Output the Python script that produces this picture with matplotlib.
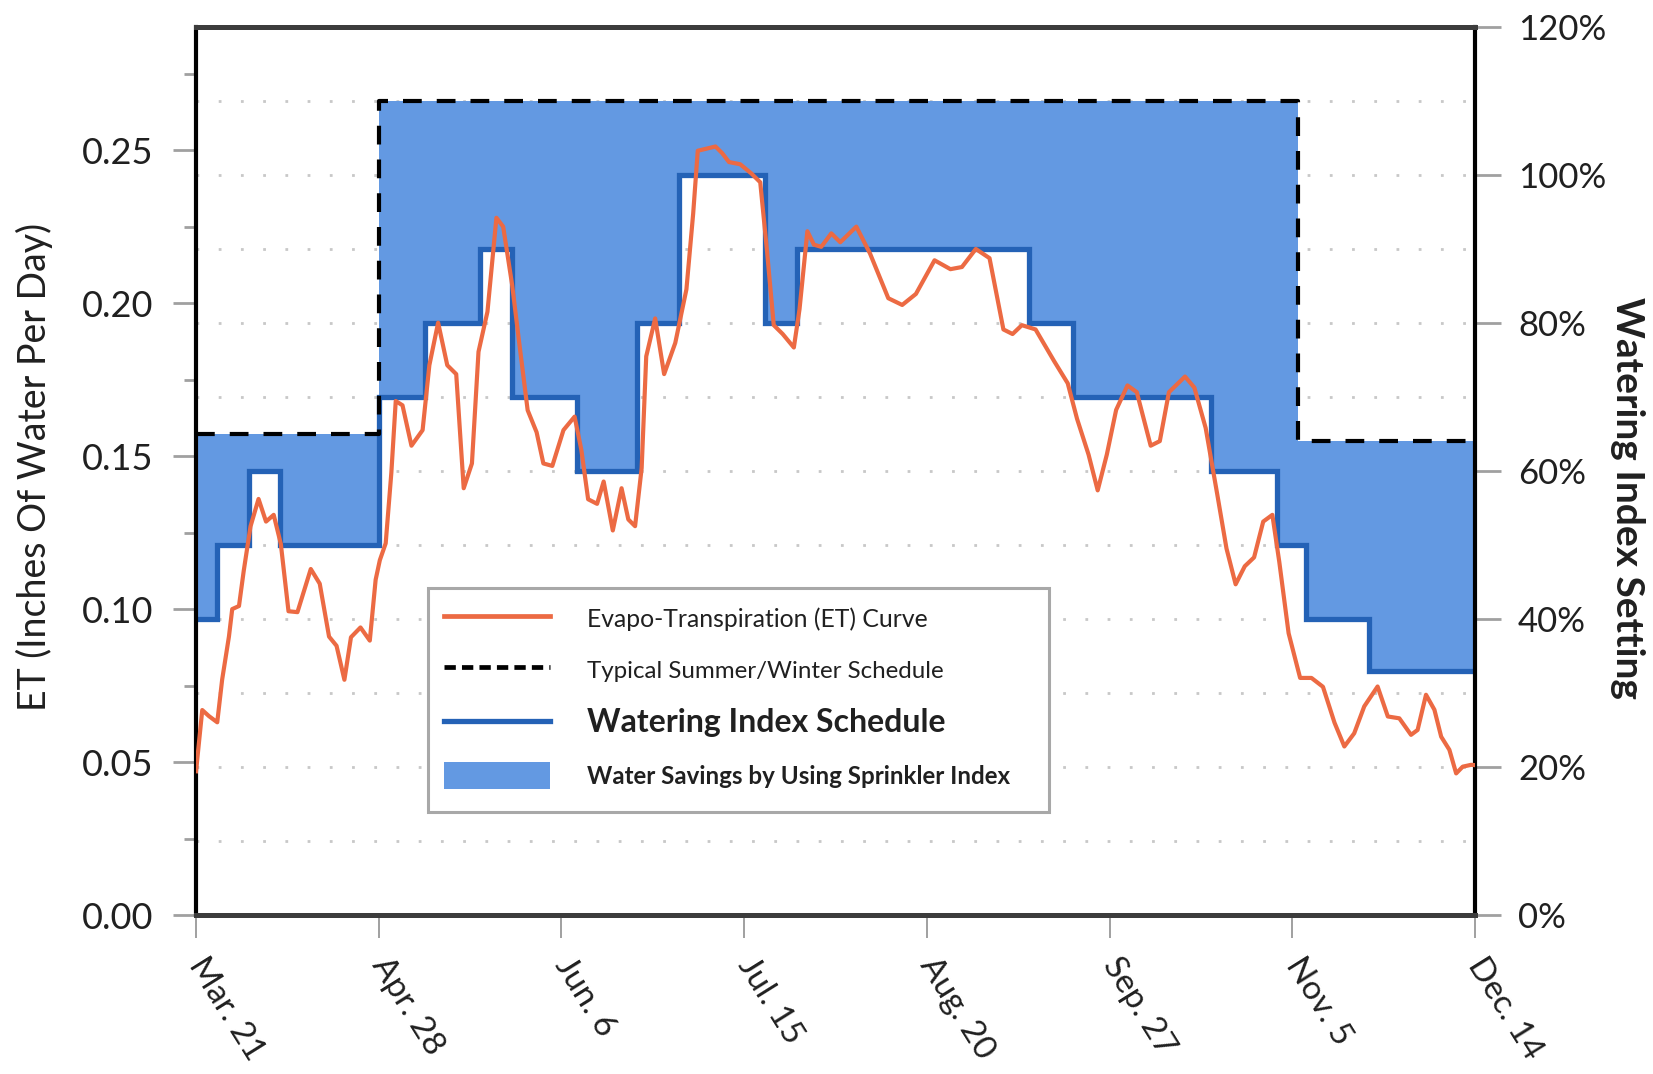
import numpy as np
import matplotlib
matplotlib.use("Agg")
import matplotlib.pyplot as plt
from matplotlib.lines import Line2D
from matplotlib.patches import Patch, Rectangle
from matplotlib.ticker import FormatStrFormatter

# ---------------- data ----------------
date_labels = ['Mar. 21', 'Apr. 28', 'Jun. 6', 'Jul. 15', 'Aug. 20', 'Sep. 27', 'Nov. 5', 'Dec. 14']
# x positions in tick units: 0 = Mar. 21 ... 7 = Dec. 14
et_x = [0.000, 0.034, 0.071, 0.116, 0.143, 0.180, 0.198, 0.235, 0.261, 0.298, 0.342, 0.383,
        0.425, 0.464, 0.506, 0.555, 0.628, 0.677, 0.728, 0.769, 0.812, 0.848, 0.900, 0.951,
        0.983, 1.006, 1.038, 1.069, 1.093, 1.130, 1.179, 1.240, 1.277, 1.325, 1.375, 1.424,
        1.465, 1.510, 1.546, 1.595, 1.644, 1.681, 1.730, 1.766, 1.815, 1.864, 1.901, 1.950,
        2.011, 2.072, 2.109, 2.146, 2.195, 2.231, 2.281, 2.329, 2.366, 2.403, 2.439, 2.464,
        2.513, 2.562, 2.623, 2.684, 2.721, 2.746, 2.795, 2.843, 2.880, 2.917, 2.978, 3.039,
        3.088, 3.124, 3.162, 3.211, 3.272, 3.303, 3.346, 3.382, 3.422, 3.477, 3.526, 3.614,
        3.689, 3.789, 3.865, 3.940, 4.042, 4.129, 4.192, 4.268, 4.343, 4.419, 4.469, 4.520,
        4.595, 4.696, 4.771, 4.822, 4.885, 4.935, 4.985, 5.036, 5.098, 5.149, 5.225, 5.275,
        5.325, 5.375, 5.413, 5.464, 5.526, 5.590, 5.640, 5.690, 5.740, 5.791, 5.841, 5.891,
        5.929, 5.980, 6.043, 6.105, 6.168, 6.231, 6.285, 6.339, 6.394, 6.467, 6.523, 6.586,
        6.650, 6.686, 6.732, 6.778, 6.815, 6.860, 6.897, 6.933, 6.979, 7.000]
et_y = [0.047, 0.067, 0.065, 0.063, 0.077, 0.091, 0.100, 0.101, 0.1125, 0.127, 0.136, 0.1286,
        0.1308, 0.1213, 0.0993, 0.0990, 0.1131, 0.1083, 0.091, 0.088, 0.0769, 0.0908, 0.094, 0.0897,
        0.1096, 0.116, 0.1215, 0.1446, 0.168, 0.1666, 0.1534, 0.1585, 0.1797, 0.1936, 0.1797, 0.1768,
        0.1395, 0.1476, 0.1841, 0.1972, 0.2279, 0.225, 0.206, 0.1884, 0.165, 0.1578, 0.1476, 0.1468,
        0.1585, 0.1629, 0.1520, 0.1359, 0.1344, 0.1417, 0.1257, 0.1395, 0.1293, 0.1271, 0.1461, 0.1826,
        0.1950, 0.1768, 0.1870, 0.2045, 0.2293, 0.2498, 0.2505, 0.2512, 0.2490, 0.2461, 0.2454, 0.2424,
        0.2395, 0.2177, 0.1928, 0.1899, 0.1855, 0.1980, 0.2235, 0.2191, 0.2184, 0.2228, 0.2199, 0.2250,
        0.2162, 0.2016, 0.1994, 0.2030, 0.2140, 0.2111, 0.2118, 0.2177, 0.2147, 0.1914, 0.1899, 0.1928,
        0.1914, 0.1811, 0.1738, 0.1622, 0.1505, 0.1388, 0.1505, 0.1651, 0.1731, 0.1709, 0.1534, 0.1549,
        0.1709, 0.1738, 0.1760, 0.1724, 0.1592, 0.1373, 0.1198, 0.1081, 0.1140, 0.1169, 0.1286, 0.1308,
        0.1154, 0.0921, 0.0775, 0.0775, 0.0746, 0.0629, 0.0551, 0.0594, 0.0682, 0.0747, 0.0649, 0.0643,
        0.0589, 0.0605, 0.0720, 0.0671, 0.0583, 0.0540, 0.0463, 0.0485, 0.0491, 0.0490]

index_edges = [0.0, 0.116, 0.289, 0.457, 1.0, 1.252, 1.552, 1.731, 2.084, 2.416, 2.642,
               3.113, 3.291, 4.557, 4.801, 5.557, 5.917, 6.075, 6.42, 7.0]
index_pct = [40, 50, 60, 50, 70, 80, 90, 70, 60, 80, 100, 80, 90, 80, 70, 60, 50, 40, 33]

typical_edges = [0.0, 1.0, 6.03, 7.0]
typical_pct = [65, 110, 64]

et_ticks = [0.00, 0.05, 0.10, 0.15, 0.20, 0.25]
et_minor_ticks = [0.025, 0.075, 0.125, 0.175, 0.225, 0.275]
pct_ticks = [0, 20, 40, 60, 80, 100, 120]
grid_pct = [10, 30, 50, 70, 90, 110]

legend_labels = ['Evapo-Transpiration (ET) Curve', 'Typical Summer/Winter Schedule',
                 'Watering Index Schedule', 'Water Savings by Using Sprinkler Index']

# ---------------- style ----------------
plt.rcParams['font.family'] = ['Lato', 'DejaVu Sans']
ET_COLOR = '#EC6A43'
LINE_BLUE = '#2462B6'
FILL_BLUE = '#6399E2'
TICK_GRAY = '#A0A0A0'
TXT = '#202020'
YMAX = 0.2903

fig = plt.figure(figsize=(16.53, 10.74), dpi=100)
ax = fig.add_axes([0.1186, 0.148, 0.7737, 0.827])
ax2 = ax.twinx()
ax.set_zorder(ax2.get_zorder() + 1)
ax.patch.set_visible(False)

# schedules on the percent axis
idx_levels = index_pct + [index_pct[-1]]
typ_levels = typical_pct + [typical_pct[-1]]
xs = np.union1d(index_edges, typical_edges)
def step_value(edges, levels, x):
    i = np.clip(np.searchsorted(edges, x, side='right') - 1, 0, len(levels) - 1)
    return np.asarray(levels)[i]
lo = step_value(index_edges, index_pct, xs)
hi = step_value(typical_edges, typical_pct, xs)
ax2.fill_between(xs, lo, hi, step='post', color=FILL_BLUE, lw=0, zorder=2)
ax2.step(index_edges, idx_levels, where='post', color=LINE_BLUE, lw=3.8, zorder=3,
         solid_joinstyle='miter')
ax2.step(typical_edges, typ_levels, where='post', color='black', lw=3.0,
         dashes=(4.5, 3.6), zorder=4)

# ET curve on inch axis
ax.plot(et_x, et_y, color=ET_COLOR, lw=3.0, zorder=5, solid_joinstyle='round')

# limits / ticks
ax.set_xlim(0, 7)
ax.set_ylim(0, YMAX)
ax2.set_ylim(0, 120)
ax.set_xticks(range(len(date_labels)))
ax.set_xticklabels(date_labels, rotation=-58, ha='left', va='center', rotation_mode='anchor')
ax.set_yticks(et_ticks)
ax.set_yticks(et_minor_ticks, minor=True)
ax.yaxis.set_major_formatter(FormatStrFormatter('%.2f'))
ax2.set_yticks(pct_ticks)
ax2.set_yticklabels([f'{v}%' for v in pct_ticks])
ax2.set_yticks(grid_pct, minor=True)
ax2.grid(True, which='both', axis='y', color='#C8C8C8', lw=2, linestyle=(0, (1, 7)), zorder=0)
ax2.set_axisbelow(True)

ax.tick_params(axis='y', which='major', direction='out', length=16.5, width=2,
               color=TICK_GRAY, pad=14, labelsize=26, labelcolor=TXT)
ax.tick_params(axis='y', which='minor', direction='out', length=8.5, width=2, color=TICK_GRAY)
ax.tick_params(axis='x', which='major', direction='out', length=16.5, width=1.2,
               color='#909090', pad=16, labelsize=24, labelcolor=TXT)
ax2.tick_params(axis='y', which='major', direction='out', length=19, width=2,
                color=TICK_GRAY, pad=12, labelsize=25, labelcolor=TXT)
ax2.tick_params(axis='y', which='minor', length=0)

for s in ax2.spines.values():
    s.set_visible(False)
ax.spines['top'].set_color('#3C3C3C')
ax.spines['top'].set_linewidth(3.6)
ax.spines['bottom'].set_color('#3C3C3C')
ax.spines['bottom'].set_linewidth(3.6)
ax.spines['left'].set_color('black')
ax.spines['left'].set_linewidth(3)
ax.spines['right'].set_color('black')
ax.spines['right'].set_linewidth(3)

# axis labels
ax.set_ylabel('ET (Inches Of Water Per Day)', fontsize=27, color=TXT,
              ha='center', va='center')
ax.yaxis.set_label_coords(-0.1267, 0.505)
ax2.set_ylabel('Watering Index Setting', fontsize=28, color=TXT, fontweight='bold',
               rotation=270, ha='center', va='center')
ax2.yaxis.set_label_coords(1.119, 0.47)

# legend: box drawn separately, entries placed inside
box = Rectangle((0.1817, 0.1163), 0.6672 - 0.1817, 0.3677 - 0.1163, transform=ax.transAxes,
                facecolor='white', edgecolor='#A8A8A8', lw=2.2, zorder=6)
ax.add_patch(box)
handles = [Line2D([], [], color=ET_COLOR, lw=3.4),
           Line2D([], [], color='black', lw=3.4, dashes=(2.4, 1.3)),
           Line2D([], [], color=LINE_BLUE, lw=3.8),
           Patch(facecolor=FILL_BLUE, edgecolor='none')]
leg = ax.legend(handles, legend_labels, loc='upper left', bbox_to_anchor=(0.194, 0.3495),
                borderaxespad=0, fontsize=18, handlelength=4.25, handleheight=1.3,
                handletextpad=1.45, labelspacing=0.98, borderpad=0, frameon=False)
leg.set_zorder(7)
legend_sizes = [17.8, 17.4, 23, 17.4]
for i, t in enumerate(leg.get_texts()):
    t.set_color(TXT)
    t.set_fontsize(legend_sizes[i])
    if i >= 2:
        t.set_fontweight('bold')

fig.savefig('out.png', dpi=100, facecolor='white')
